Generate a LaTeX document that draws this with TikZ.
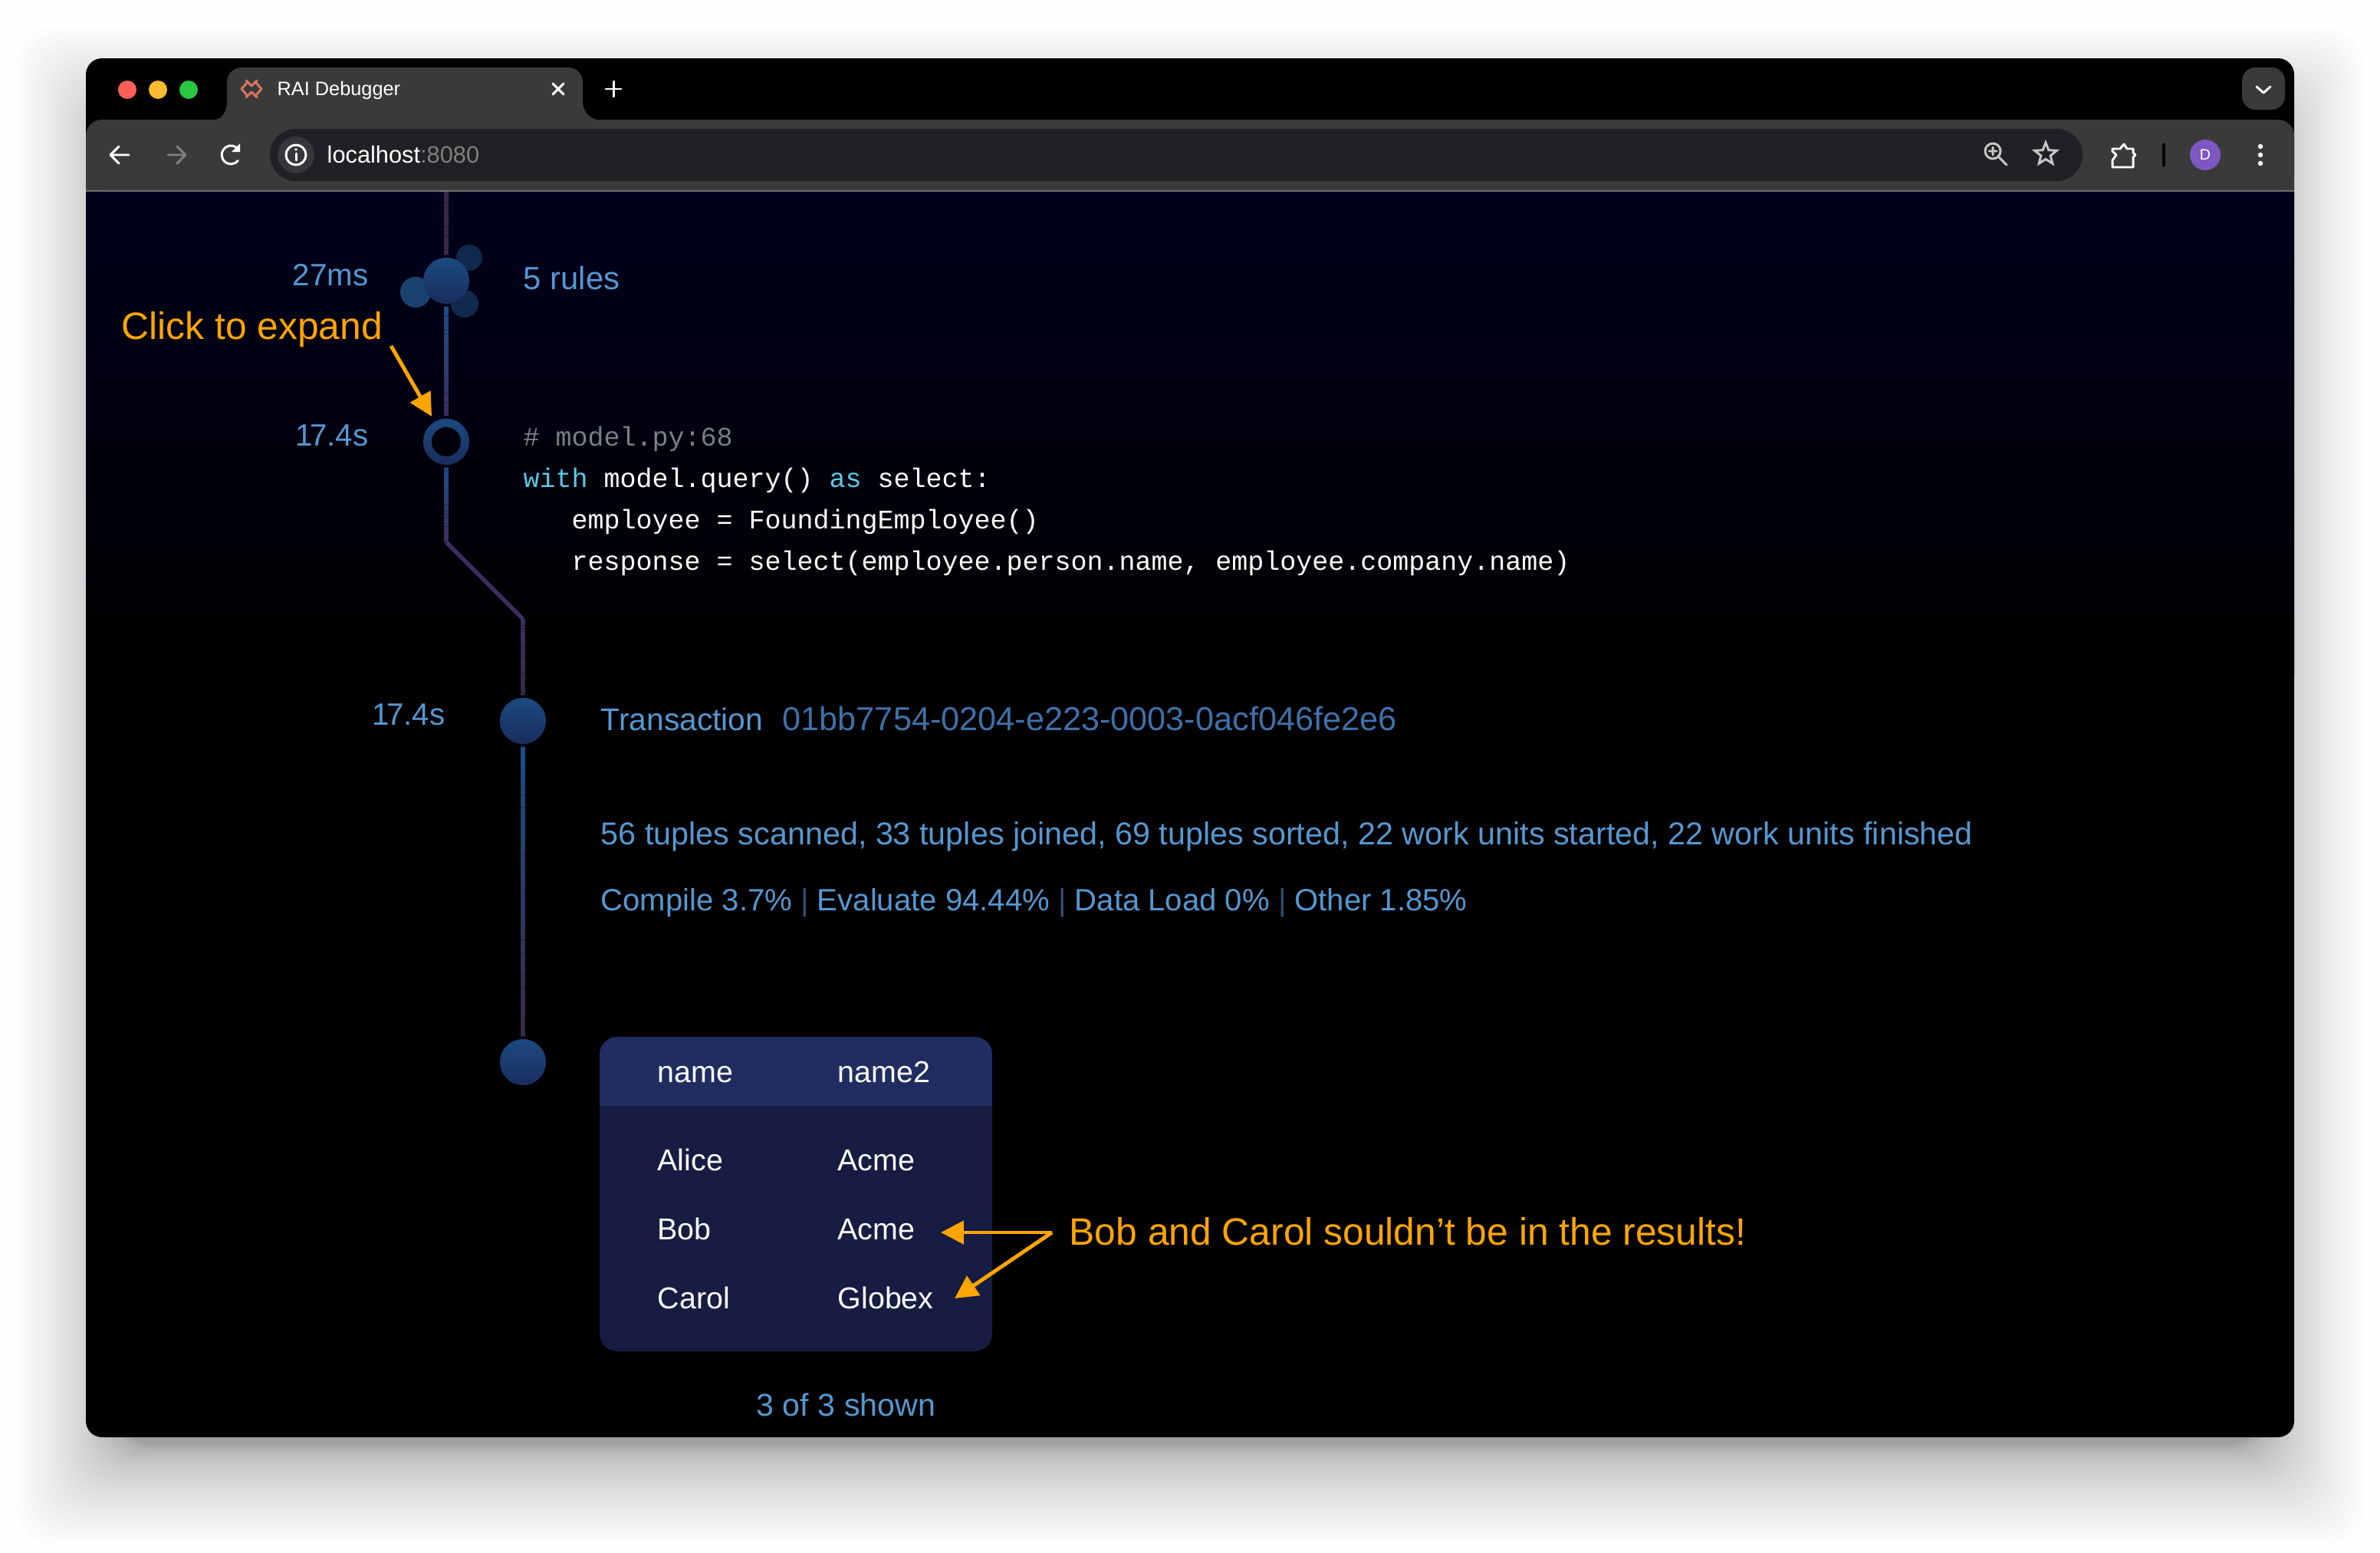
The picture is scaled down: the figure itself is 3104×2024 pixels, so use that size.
\documentclass[tikz,border=0pt]{standalone}
\usepackage{fontspec}
\usepackage{xcolor}
\setmainfont{Liberation Sans}
\setmonofont{Liberation Mono}
\usetikzlibrary{calc, arrows.meta, shapes.geometric}

\definecolor{pagebg}{HTML}{FEFEFE}
\definecolor{chrome}{HTML}{3A3A3A}
\definecolor{chromeline}{HTML}{707070}
\definecolor{urlbar}{HTML}{202124}
\definecolor{urlchip}{HTML}{35373A}
\definecolor{navy}{HTML}{00001C}
\definecolor{rblue}{HTML}{5598D2}
\definecolor{ridblue}{HTML}{3E71AB}
\definecolor{rsep}{HTML}{2F5273}
\definecolor{rorange}{HTML}{FFA500}
\definecolor{wireblue}{HTML}{1C4C84}
\definecolor{wirepurple}{HTML}{3C2E60}
\definecolor{wireplum}{HTML}{3A2848}
\definecolor{bubbletop}{HTML}{1B4A80}
\definecolor{bubblebot}{HTML}{1A2C5E}
\definecolor{budleft}{HTML}{1A4270}
\definecolor{budright}{HTML}{11294D}
\definecolor{headfill}{HTML}{212D61}
\definecolor{bodyfill}{HTML}{171C42}
\definecolor{kwcyan}{HTML}{5CC8E6}
\definecolor{commentgray}{HTML}{7A7F88}
\definecolor{lightred}{HTML}{FF5F57}
\definecolor{lightamber}{HTML}{FEBC2E}
\definecolor{lightgreen}{HTML}{28C840}
\definecolor{faviconred}{HTML}{D9735C}
\definecolor{iconsoft}{HTML}{C4C7C5}
\definecolor{avatarfill}{HTML}{7E57C2}

\tikzset{
	ui/.style = {inner sep=0, anchor=base west, text=white, font=\fontsize{7.2}{9}\selectfont},
	info/.style = {inner sep=0, anchor=base west, text=rblue, font=\fontsize{11.7}{14}\selectfont},
	infor/.style = {info, anchor=base east},
	code/.style = {inner sep=0, anchor=base west, text=white, font=\ttfamily\fontsize{9.95}{12}\selectfont},
	cell/.style = {inner sep=0, anchor=base west, text=white, font=\fontsize{11.2}{14}\selectfont},
	note/.style = {inner sep=0, anchor=base west, text=rorange, font=\fontsize{14.15}{17}\selectfont},
	bubble/.style = {circle, inner sep=0, outer sep=1pt, minimum size=0.6cm, top color=bubbletop, bottom color=bubblebot},
	callout/.style = {draw=rorange, line width=1.4pt, -{Triangle[length=8.5pt,width=8.5pt]}},
	icon/.style = {draw=white, line width=.85pt, line cap=round, line join=round},
}

\newcommand{\gradwire}[4]{
	\foreach \i in {1,...,24} {
		\pgfmathtruncatemacro{\mix}{100-(\i-1)*100/23}
		\colorlet{wiremix}{#3!\mix!#4}
		\draw [wiremix, line width=1.6pt] ($(#1)!{(\i-1)/24}!(#2)$) -- ($(#1)!{\i/24}!(#2)$);
	}
}

\begin{document}
\begin{tikzpicture}[x=0.01cm, y=-0.01cm]
	\def\wl{112};
	\def\wr{2992};
	\def\wt{76};
	\def\wb{1874};

	\fill [pagebg] (0,0) rectangle (3104,2024);
	\useasboundingbox (0,0) rectangle (3104,2024);

	\begin{scope}
		\foreach \i in {0,...,32} {
			\pgfmathsetmacro{\s}{-40+130*(\i/32)^2}
			\fill [black, opacity=0.0115, rounded corners=14pt]
				(\wl-\s,\wt+50-\s) rectangle (\wr+\s,\wb+50+\s);
		}
	\end{scope}

	\begin{scope}
		\fill [black, rounded corners=6pt] (\wl,\wt) rectangle (\wr,\wb);
		\shade [top color=navy, bottom color=black] (\wl,250) rectangle (\wr,880);

		\fill [chrome, rounded corners=6pt] (\wl,250) -- (\wl,156) -- (\wr,156) -- (\wr,250) -- cycle;
		\fill [chrome] (\wl,200) rectangle (\wr,250);
		\fill [chromeline] (\wl,248) rectangle (\wr,250);
		\fill [chrome] (276,157) .. controls (290,156) and (296,146) .. (296,132) -- (296,108)
			.. controls (296,96) and (304,88) .. (316,88) -- (740,88)
			.. controls (752,88) and (760,96) .. (760,108) -- (760,132)
			.. controls (760,146) and (770,156) .. (784,157) -- cycle;
		\fill [chrome, rounded corners=5pt] (2924,88) rectangle (2980,143);
		\fill [urlbar, rounded corners=9.6pt] (352,168) rectangle (2716,236);
	\end{scope}

	\begin{scope}
		\fill [lightred] (166,117) circle (12);
		\fill [lightamber] (206,117) circle (12);
		\fill [lightgreen] (246,117) circle (12);

		\draw [icon, draw=faviconred] (321,105) -- (328,112) -- (335,105);
		\draw [icon, draw=faviconred] (321,127) -- (328,120) -- (335,127);
		\draw [icon, draw=faviconred] (322,108) -- (315,116) -- (322,124);
		\draw [icon, draw=faviconred] (334,108) -- (341,116) -- (334,124);
		\node [ui] (tabtitle) at (361,124) {RAI Debugger};
		\draw [icon] (721,109) -- (735,123) (735,109) -- (721,123);
		\draw [icon] (790,116) -- (810,116) (800,106) -- (800,126);
		\draw [icon] (2943,113) -- (2952,121) -- (2961,113);

		\draw [icon] (168,202) -- (145,202) (155,191) -- (144,202) -- (155,213);
		\draw [icon, draw=gray] (219,202) -- (241,202) (231,191) -- (242,202) -- (231,213);
		\draw [icon] (311,195) arc (-35:-320:12);
		\fill [white] (313,187) -- (313,198) -- (302,198) -- cycle;

		\fill [urlchip] (386,202) circle (24);
		\draw [icon] (386,202) circle (13);
		\draw [icon] (386,200) -- (386,209);
		\fill [white] (386,195) circle (1.8);
		\node [ui, font=\fontsize{8.75}{10}\selectfont] (urltext) at (426,212) {localhost\textcolor{gray}{:8080}};

		\draw [icon, draw=iconsoft] (2599,197) circle (10);
		\draw [icon, draw=iconsoft] (2607,205) -- (2617,215) (2594,197) -- (2604,197) (2599,192) -- (2599,202);
		\node [star, star points=5, star point ratio=2.3, draw=iconsoft, line width=.85pt, inner sep=0, minimum size=0.3cm] (favstar) at (2668,201) {};
		\draw [icon] (2755,194) -- (2765,194) -- (2770,188) -- (2774,194) -- (2782,194) -- (2782,199) -- (2785,202) -- (2782,205)
			-- (2782,218) -- (2755,218) -- (2755,209) -- (2760,202) -- (2755,197) -- cycle;
		\draw [black, line width=.9pt, line cap=round] (2822,188) -- (2822,216);
		\node [circle, fill=avatarfill, inner sep=0, minimum size=0.4cm, text=white, font=\fontsize{5.6}{7}\selectfont] (avatar) at (2876,202) {D};
		\foreach \yy in {191,202,213} {
			\fill [white] (2948,\yy) circle (3.2);
		}
	\end{scope}

	\begin{scope}
		\coordinate (topend) at (582,250);
		\fill [budright] (612,336) circle (17);
		\fill [budright] (606,396) circle (18);
		\fill [budleft] (542,381) circle (20);
		\node [bubble] (rules) at (582,366) {};
		\node [bubble] (query) at (582,576) {};
		\fill [navy!40!black] (query) circle (19);
		\coordinate (bendtop) at (582,707);
		\coordinate (bendbot) at (682,807);
		\node [bubble] (txn) at (682,940) {};
		\node [bubble] (result) at (682,1385) {};

		\gradwire{topend}{rules.north}{wireplum}{wireplum}
		\gradwire{rules.south}{query.north}{wireblue}{wirepurple}
		\gradwire{query.south}{bendtop}{wireblue}{wirepurple}
		\draw [wirepurple, line width=1.6pt, line join=round] (bendtop) -- (bendbot);
		\gradwire{bendbot}{txn.north}{wirepurple}{wireplum}
		\gradwire{txn.south}{result.north}{wireblue}{wireplum}
	\end{scope}

	\begin{scope}
		\node [infor, font=\fontsize{11.45}{14}\selectfont] (t1) at (481,372) {27ms};
		\node [infor, font=\fontsize{11.45}{14}\selectfont] (t2) at (481,581) {1\kern-.09em 7.4s};
		\node [infor, font=\fontsize{11.45}{14}\selectfont] (t3) at (581,945) {1\kern-.09em 7.4s};
		\node [info, font=\fontsize{11.9}{14}\selectfont] (nrules) at (682,377) {5 rules};

		\node [code, text=commentgray] (c0) at (682,581) {\# model.py:68};
		\node [code] (c1) at (682,635) {\textcolor{kwcyan}{with} model.query() \textcolor{kwcyan}{as} select:};
		\node [code] (c2) at (745,689) {employee = FoundingEmployee()};
		\node [code] (c3) at (745,743) {response = select(employee.person.name, employee.company.name)};

		\node [info, font=\fontsize{11.6}{14}\selectfont] (txntext) at (783,952) {Transaction};
		\node [info, text=ridblue, font=\fontsize{12.3}{14}\selectfont] (txnid) at (1020,952) {01bb7754-0204-e223-0003-0acf046fe2e6};
		\node [info, font=\fontsize{11.75}{14}\selectfont] (stats) at (783,1101) {56 tuples scanned, 33 tuples joined, 69 tuples sorted, 22 work units started, 22 work units finished};
		\node [info, font=\fontsize{11.4}{14}\selectfont] (split) at (783,1187) {Compile 3.7\% \textcolor{rsep}{|} Evaluate 94.44\% \textcolor{rsep}{|} Data Load 0\% \textcolor{rsep}{|} Other 1.85\%};
	\end{scope}

	\begin{scope}
		\fill [bodyfill, rounded corners=6.5pt] (782,1352) rectangle (1294,1762);
		\begin{scope}
			\clip [rounded corners=6.5pt] (782,1352) rectangle (1294,1762);
			\fill [headfill] (782,1352) rectangle (1294,1442);
		\end{scope}
		\node [cell] (h1) at (857,1411) {name};
		\node [cell] (h2) at (1092,1411) {name2};
		\foreach \nm/\co/\yy in {Alice/Acme/1526, Bob/Acme/1616, Carol/Globex/1706} {
			\node [cell] (n\nm) at (857,\yy) {\nm};
			\node [cell] (c\nm) at (1092,\yy) {\co};
		}
		\node [info] (shown) at (986,1846) {3 of 3 shown};
	\end{scope}

	\begin{scope}
		\node [note] (clicknote) at (158,442) {Click to expand};
		\coordinate (clickfrom) at (510,451);
		\coordinate (clickto) at (563,543);
		\draw [callout] (clickfrom) -- (clickto);

		\node [note] (resultnote) at (1394,1623) {Bob and Carol souldn’t be in the results!};
		\coordinate (fork) at (1372,1607);
		\coordinate (bobto) at (1227,1607);
		\coordinate (carolto) at (1245,1693);
		\draw [callout] (fork) -- (bobto);
		\draw [callout] (fork) -- (carolto);
	\end{scope}
\end{tikzpicture}
\end{document}
